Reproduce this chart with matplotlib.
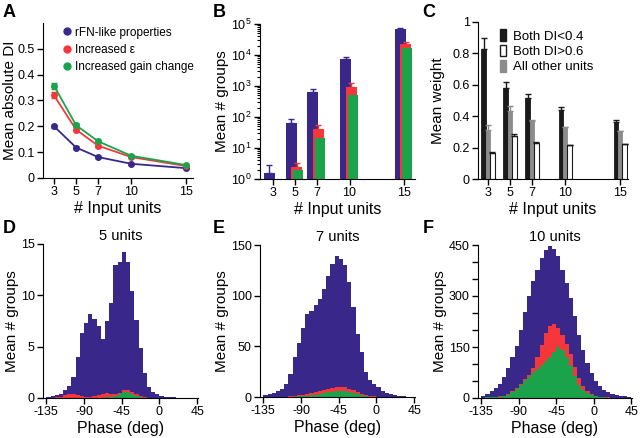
import numpy as np
import matplotlib
matplotlib.use('Agg')
import matplotlib.pyplot as plt
from matplotlib.patches import Patch
from matplotlib.lines import Line2D
from matplotlib.ticker import MultipleLocator, LogLocator, NullFormatter

plt.rcParams['font.family'] = ['Liberation Sans', 'DejaVu Sans']
plt.rcParams['font.size'] = 10
plt.rcParams['mathtext.default'] = 'regular'
plt.rcParams['axes.unicode_minus'] = False

BLUE = '#39288A'
RED = '#F5373C'
GREEN = '#1BA34B'

# --- data -------------------------------------------------------------
n_units = [3, 5, 7, 10, 15]

# A: mean absolute DI
di_rfn = [0.200, 0.118, 0.081, 0.055, 0.038]
di_rfn_err = [0.006, 0.004, 0.003, 0.002, 0.002]
di_eps = [0.320, 0.187, 0.125, 0.081, 0.046]
di_eps_err = [0.012, 0.006, 0.004, 0.003, 0.002]
di_gain = [0.357, 0.204, 0.142, 0.086, 0.050]
di_gain_err = [0.012, 0.007, 0.005, 0.003, 0.002]

# B: mean number of groups (log scale)
grp_rfn = [1.6, 62, 620, 7200, 67000]
grp_rfn_err = [1.2, 24, 180, 1200, 5000]
grp_eps = [np.nan, 2.4, 40, 900, 22700]
grp_eps_err = [0, 1.0, 14, 330, 3000]
grp_gain = [np.nan, 1.95, 20.6, 510, 16400]

# C: mean weight
w_low = [0.825, 0.580, 0.513, 0.440, 0.360]
w_low_err = [0.075, 0.040, 0.027, 0.020, 0.015]
w_other = [0.310, 0.430, 0.370, 0.330, 0.305]
w_other_err = [0.035, 0.035, 0.004, 0.003, 0.003]
w_high = [0.163, 0.273, 0.227, 0.215, 0.220]
w_high_err = [0.012, 0.012, 0.006, 0.004, 0.003]

# D-F: phase histograms, 5 deg bins from -135 to 45
phase_edges = np.arange(-135, 50, 5)

h5_rfn = [0.05, 0.15, 0.3, 0.4, 0.8, 1.2, 2.0, 4.0, 6.3, 7.3, 8.2, 7.7, 7.0, 5.7,
          7.5, 9.3, 13.0, 13.2, 14.2, 13.2, 10.4, 7.6, 4.9, 2.4, 1.1, 0.6, 0.4, 0.2,
          0.1, 0.05, 0.05, 0.03, 0.03, 0.02, 0.02, 0.02]
h5_eps = [0, 0, 0.05, 0.1, 0.25, 0.4, 0.4, 0.3, 0.15, 0.1, 0.1, 0.2, 0.3, 0.4,
          0.45, 0.4, 0.35, 0.5, 0.75, 0.75, 0.55, 0.35, 0.15, 0.05, 0.02, 0, 0, 0,
          0, 0, 0, 0, 0, 0, 0, 0]
h5_gain = [0, 0, 0, 0, 0, 0, 0, 0, 0, 0, 0, 0, 0, 0,
           0.05, 0.1, 0.2, 0.4, 0.6, 0.6, 0.4, 0.2, 0.05, 0, 0, 0, 0, 0,
           0, 0, 0, 0, 0, 0, 0, 0]

h7_rfn = [1.5, 2.5, 4, 6, 8, 12.5, 23, 39.5, 53.6, 68, 81.6, 85, 90.5, 97, 107,
          119, 131.6, 139, 136.5, 130, 113.5, 89, 62.5, 44, 24.7, 16.4, 13, 10, 6,
          4, 2.5, 1.6, 1, 0.7, 0.4, 0.2]
h7_eps = [0, 0, 0, 0, 0.2, 0.4, 0.7, 1.0, 1.5, 2.2, 3.0, 4.0, 5.0, 6.0, 7.2, 8.2,
          9.3, 9.8, 10.0, 9.6, 8.3, 6.5, 4.5, 2.8, 1.6, 0.9, 0.5, 0.2, 0.1,
          0, 0, 0, 0, 0, 0, 0]
h7_gain = [0, 0, 0, 0, 0, 0.1, 0.2, 0.3, 0.5, 0.8, 1.2, 1.7, 2.3, 3.0, 3.8, 4.5,
           5.2, 5.8, 6.0, 5.8, 5.0, 3.8, 2.5, 1.5, 0.8, 0.4, 0.2, 0.1, 0,
           0, 0, 0, 0, 0, 0, 0]

h10_rfn = [7, 13, 20, 29, 42, 62, 88, 122, 154, 201, 252, 301, 343, 377, 412,
           436, 446, 438, 417, 377, 338, 294, 240, 186, 142, 103, 74, 49, 34, 23,
           17, 12, 9, 7, 5, 4]
h10_eps = [1, 1.5, 2.5, 3.5, 5, 7, 12, 20, 29, 41, 55, 68, 88, 120, 155, 190,
           212, 218, 205, 185, 160, 128, 92, 60, 36, 20, 12, 7, 4, 3, 2, 1, 1,
           0.5, 0.3, 0.2]
h10_gain = [1, 1.5, 2, 3, 4, 5, 10, 18, 27, 38, 50, 62, 74, 85, 96, 108, 120, 135,
            150, 142, 122, 93, 64, 39, 25, 15, 9, 5, 3, 2, 1, 1, 0.5, 0.3, 0.2, 0.1]

W, H = 640, 438
TICK_FS = 9
LABEL_FS = 11.5
YLABEL_FS = 11


def add_axes(left, right, top, bottom):
    return fig.add_axes([left / W, 1 - bottom / H, (right - left) / W, (bottom - top) / H])


def style(ax):
    for s in ['top', 'right']:
        ax.spines[s].set_visible(False)
    ax.tick_params(direction='out', length=4, width=1, labelsize=TICK_FS, pad=2)
    ax.tick_params(which='minor', direction='out', length=2, width=0.8)


fig = plt.figure(figsize=(W / 100, H / 100), dpi=100)

# --- A ---
axA = add_axes(43, 193, 23, 178)
style(axA)
for y, e, c in [(di_rfn, di_rfn_err, BLUE), (di_eps, di_eps_err, RED),
                (di_gain, di_gain_err, GREEN)]:
    axA.errorbar(n_units, y, yerr=e, color=c, marker='o', ms=4, lw=1.3, capsize=2)
axA.set_xlim(2, 15.6)
axA.set_ylim(0, 0.6)
axA.set_xticks(n_units)
axA.set_yticks([0, 0.1, 0.2, 0.3, 0.4, 0.5])
axA.set_yticklabels(['0', '0.1', '0.2', '0.3', '0.4', '0.5'])
axA.set_xlabel('# Input units', fontsize=LABEL_FS, labelpad=2)
axA.set_ylabel('Mean absolute DI', fontsize=YLABEL_FS)
axA.yaxis.set_label_coords(-0.175, 0.5)
handles = [Line2D([], [], color=c, marker='o', ls='none', ms=5) for c in (BLUE, RED, GREEN)]
axA.legend(handles, ['rFN-like properties', 'Increased ε', 'Increased gain change'],
           loc='upper left', bbox_to_anchor=(0.06, 1.03), frameon=False, fontsize=8.5,
           handletextpad=0.05, handlelength=1.2, labelspacing=0.45, borderaxespad=0.3)

# --- B ---
axB = add_axes(260, 415, 24, 179)
style(axB)
x = np.array(n_units, dtype=float)
axB.bar(x - 0.35, grp_rfn, width=1.0, color=BLUE, yerr=[np.zeros(5), grp_rfn_err],
        error_kw=dict(ecolor=BLUE, capsize=2, lw=1))
axB.bar(x + 0.15, grp_eps, width=1.0, color=RED, yerr=[np.zeros(5), grp_eps_err],
        error_kw=dict(ecolor=RED, capsize=2, lw=1))
axB.bar(x + 0.3, grp_gain, width=0.9, color=GREEN)
axB.set_yscale('log')
axB.set_ylim(1, 1e5)
axB.set_xlim(1.8, 16)
axB.set_xticks(n_units)
axB.yaxis.set_major_locator(LogLocator(base=10, numticks=10))
axB.yaxis.set_minor_locator(LogLocator(base=10, subs=np.arange(2, 10), numticks=10))
axB.yaxis.set_minor_formatter(NullFormatter())
axB.set_xlabel('# Input units', fontsize=LABEL_FS, labelpad=2)
axB.set_ylabel('Mean # groups', fontsize=YLABEL_FS)
axB.yaxis.set_label_coords(-0.2, 0.5)

# --- C ---
axC = add_axes(478, 628, 22, 179)
style(axC)
bw = 0.4
axC.bar(x - bw, w_low, width=bw, color='#1a1a1a', edgecolor='#1a1a1a', lw=0.6,
        yerr=[np.zeros(5), w_low_err], error_kw=dict(ecolor='#1a1a1a', capsize=2, lw=1))
axC.bar(x, w_other, width=bw, color='#8c8c8c', edgecolor='#8c8c8c', lw=0.6,
        yerr=[np.zeros(5), w_other_err], error_kw=dict(ecolor='#8c8c8c', capsize=2, lw=1))
axC.bar(x + bw, w_high, width=bw, color='white', edgecolor='#1a1a1a', lw=0.8,
        yerr=[np.zeros(5), w_high_err], error_kw=dict(ecolor='#1a1a1a', capsize=2, lw=1))
axC.set_xlim(2.1, 15.7)
axC.set_ylim(0, 1)
axC.set_xticks(n_units)
axC.set_yticks([0, 0.2, 0.4, 0.6, 0.8, 1])
axC.set_yticklabels(['0', '0.2', '0.4', '0.6', '0.8', '1'])
axC.set_xlabel('# Input units', fontsize=LABEL_FS, labelpad=2)
axC.set_ylabel('Mean weight', fontsize=YLABEL_FS)
axC.yaxis.set_label_coords(-0.22, 0.5)
handles = [Patch(facecolor='#1a1a1a', edgecolor='#1a1a1a'),
           Patch(facecolor='white', edgecolor='#1a1a1a'),
           Patch(facecolor='#8c8c8c', edgecolor='#8c8c8c')]
axC.legend(handles, ['Both DI<0.4', 'Both DI>0.6', 'All other units'],
           loc='upper left', bbox_to_anchor=(0.07, 1.03), frameon=False, fontsize=9.5,
           handlelength=0.45, handleheight=1.0, handletextpad=0.5, labelspacing=0.15)

# --- D, E, F ---
hist_sets = [
    ((43, 198, 244, 398), h5_rfn, h5_eps, h5_gain, '5 units', 15, [0, 5, 10, 15], None, -0.155),
    ((260, 415, 245, 397), h7_rfn, h7_eps, h7_gain, '7 units', 150, [0, 50, 100, 150], None, -0.2),
    ((478, 632, 245, 398), h10_rfn, h10_eps, h10_gain, '10 units', 450, [0, 150, 300, 450], 50, -0.2),
]
for (l, r, t, b), hb, hr, hg, title, ymax, yt, minor, ylx in hist_sets:
    ax = add_axes(l, r, t, b)
    style(ax)
    ax.stairs(hb, phase_edges, fill=True, color=BLUE)
    ax.stairs(hr, phase_edges, fill=True, color=RED)
    ax.stairs(hg, phase_edges, fill=True, color=GREEN)
    ax.set_xlim(-139, 46)
    ax.set_ylim(0, ymax)
    ax.set_xticks([-135, -90, -45, 0, 45])
    ax.set_yticks(yt)
    if minor:
        ax.yaxis.set_minor_locator(MultipleLocator(minor))
        ax.tick_params(which='minor', length=4, width=1)
    ax.set_title(title, fontsize=10.5, pad=3)
    ax.set_xlabel('Phase (deg)', fontsize=LABEL_FS, labelpad=2)
    ax.set_ylabel('Mean # groups', fontsize=YLABEL_FS)
    ax.yaxis.set_label_coords(ylx, 0.5)

# panel letters
for lab, px, py in [('A', 3, 17), ('B', 213, 17), ('C', 422, 17),
                    ('D', 3, 233), ('E', 213, 233), ('F', 423, 233)]:
    fig.text(px / W, 1 - py / H, lab, fontsize=13, fontweight='bold')

fig.savefig('out.png', dpi=100)
